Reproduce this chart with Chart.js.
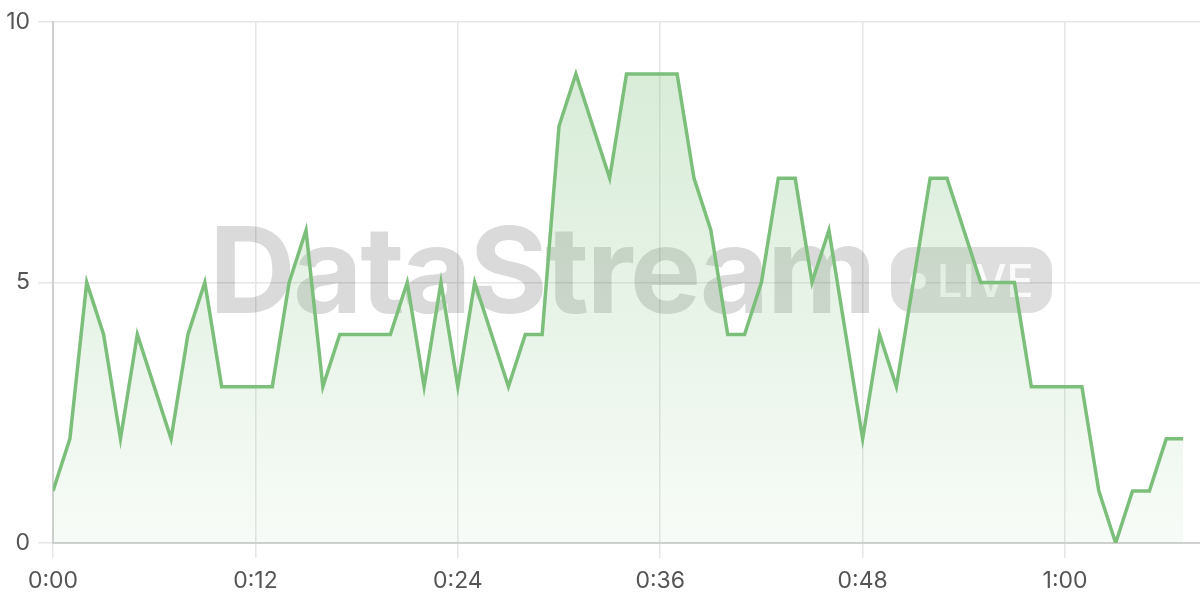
<!DOCTYPE html>
<html>
<head>
<meta charset="utf-8">
<script src="https://cdn.jsdelivr.net/npm/chart.js@4"></script>
<style>
  html, body { margin: 0; padding: 0; background: #ffffff; }
  #wrap { width: 1200px; height: 600px; position: relative; }
</style>
</head>
<body>
<div id="wrap"><canvas id="c"></canvas></div>
<script>
// ---- data ----
const minutes = [0,1,2,3,4,5,6,7,8,9,10,11,12,13,14,15,16,17,18,19,20,21,22,23,24,25,26,27,28,29,30,31,32,33,34,35,36,37,38,39,40,41,42,43,44,45,46,47,48,49,50,51,52,53,54,55,56,57,58,59,60,61,62,63,64,65,66,67];
const values  = [1,2,5,4,2,4,3,2,4,5,3,3,3,3,5,6,3,4,4,4,4,5,3,5,3,5,4,3,4,4,8,9,8,7,9,9,9,9,7,6,4,4,5,7,7,5,6,4,2,4,3,5,7,7,6,5,5,5,3,3,3,3,1,0,1,1,2,2];
const xTickMinutes = [0,12,24,36,48,60];
const yTicks = [0,5,10];
const watermarkText = "DataStream";
const badgeText = "LIVE";

const points = minutes.map((m, i) => ({ x: m, y: values[i] }));

function fmt(m) {
  const h = Math.floor(m / 60);
  const mm = m % 60;
  return h + ":" + String(mm).padStart(2, "0");
}

const watermark = {
  id: "watermark",
  beforeDatasetsDraw(chart) {
    const ctx = chart.ctx;
    ctx.save();
    ctx.fillStyle = "rgba(0,0,0,0.145)";
    ctx.font = "bold 120px Inter, 'DejaVu Sans', sans-serif";
    ctx.textBaseline = "alphabetic";
    ctx.textAlign = "left";
    try { ctx.letterSpacing = "-2.6px"; } catch (e) {}
    ctx.fillText(watermarkText, 209, 313);
    try { ctx.letterSpacing = "0px"; } catch (e) {}
    // badge
    const bx = 891, by = 247, bw = 161, bh = 66, r = 22;
    ctx.beginPath();
    ctx.moveTo(bx + r, by);
    ctx.arcTo(bx + bw, by, bx + bw, by + bh, r);
    ctx.arcTo(bx + bw, by + bh, bx, by + bh, r);
    ctx.arcTo(bx, by + bh, bx, by, r);
    ctx.arcTo(bx, by, bx + bw, by, r);
    ctx.closePath();
    ctx.fillStyle = "rgba(0,0,0,0.13)";
    ctx.fill();
    ctx.fillStyle = "rgba(255,255,255,0.85)";
    ctx.beginPath();
    ctx.arc(918, 281, 8, 0, Math.PI * 2);
    ctx.fill();
    ctx.font = "500 45px Inter, 'DejaVu Sans', sans-serif";
    ctx.fillText(badgeText, 937, 297);
    ctx.restore();
  }
};

const ctx = document.getElementById("c").getContext("2d");
new Chart(ctx, {
  type: "line",
  data: {
    datasets: [{
      data: points,
      borderColor: "#7bbf7b",
      borderWidth: 3.5,
      pointRadius: 0,
      tension: 0,
      fill: "origin",
      backgroundColor: (context) => {
        const ch = context.chart;
        const area = ch.chartArea;
        if (!area) return "rgba(123,191,123,0.2)";
        const g = ch.ctx.createLinearGradient(0, area.top, 0, area.bottom);
        g.addColorStop(0, "rgba(123,191,123,0.32)");
        g.addColorStop(1, "rgba(123,191,123,0.06)");
        return g;
      }
    }]
  },
  options: {
    responsive: true,
    maintainAspectRatio: false,
    animation: false,
    layout: { padding: { top: 20, right: 0, left: 0, bottom: 0 } },
    plugins: { legend: { display: false }, tooltip: { enabled: false } },
    scales: {
      x: {
        type: "linear",
        min: 0,
        max: 68,
        afterBuildTicks(scale) { scale.ticks = xTickMinutes.map(v => ({ value: v })); },
        afterFit(scale) { scale.height = 57; },
        ticks: {
          callback: (v) => fmt(v),
          color: "#555555",
          font: { family: "Inter", size: 23 },
          padding: 9,
          maxRotation: 0,
          autoSkip: false
        },
        grid: { color: "#e6e6e6", lineWidth: 1.5, tickLength: 15, tickColor: "#e6e6e6" },
        border: { color: "#d0d0d0", width: 2 }
      },
      y: {
        min: 0,
        max: 10,
        afterBuildTicks(scale) { scale.ticks = yTicks.map(v => ({ value: v })); },
        afterFit(scale) { scale.width = 53; },
        ticks: {
          color: "#555555",
          font: { family: "Inter", size: 23 },
          padding: 8
        },
        grid: { color: "#e6e6e6", lineWidth: 1.5, tickLength: 15, tickColor: "#e6e6e6" },
        border: { color: "#d0d0d0", width: 2 }
      }
    }
  },
  plugins: [watermark]
});
</script>
</body>
</html>
